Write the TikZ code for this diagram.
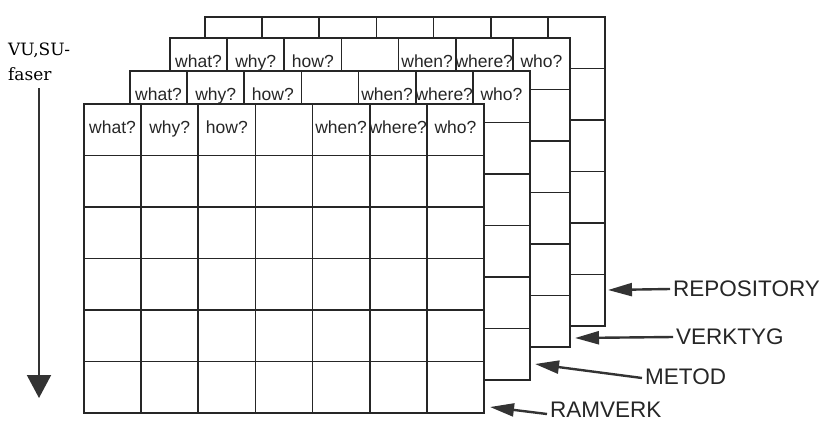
\documentclass[tikz,border=0pt]{standalone}
\usepackage{fontspec}
\setmainfont{Liberation Sans}
\newfontfamily\serifnote{DejaVu Serif}
\usetikzlibrary{arrows.meta}

% one sheet of the matrix: name, left, top
\newcommand{\matsheet}[3]{%
  \begin{scope}[shift={(#2,#3)}]
    \fill[white] (0,0) rectangle (400,309);
    \foreach \c in {1,...,6}
      \draw[gridline] ({\c*400/7},0) -- ({\c*400/7},309);
    \foreach \r in {1,...,5}
      \draw[gridline] (0,{\r*51.5}) -- (400,{\r*51.5});
    \draw[gridline] (0,0) rectangle (400,309);
    \coordinate (#1) at (0,0);
  \end{scope}}
% question headings of a sheet
\newcommand{\sheetasks}[3]{%
  \begin{scope}[shift={(#2,#3)}]
    \foreach \i/\q in {1/what?,2/why?,3/how?,5/when?,6/where?,7/who?}
      \node[ask] (#1-\i) at ({(\i-0.5)*400/7},29) {\q};
  \end{scope}}

\begin{document}
\begin{tikzpicture}[
  x=1pt, y=-1pt,
  gridline/.style={draw=black!85, line width=1.8pt, line join=miter},
  ask/.style={font=\fontsize{17.5}{19}\selectfont, anchor=base, inner sep=0pt, text=black!85},
  tag/.style={font=\fontsize{22.5}{25}\selectfont, anchor=west, inner sep=3pt, text=black!85},
  pointer/.style={-{Triangle[length=24pt,width=13pt]}, line width=2.4pt, draw=black!80},
  phase/.style={font=\fontsize{17}{25}\serifnote, align=left, anchor=north west, inner sep=0pt},
  phaseflow/.style={-{Triangle[length=23pt,width=24pt]}, line width=2pt, draw=black!80}
]
\fill[white] (0,0) rectangle (826,423);
\useasboundingbox (0,0) rectangle (826,423);

% sheets, back to front
\matsheet{repositorysheet}{205}{17}
\matsheet{verktygsheet}{170}{38}
\sheetasks{verktygsheet}{170}{38}
\matsheet{metodsheet}{130}{71}
\sheetasks{metodsheet}{130}{71}
\matsheet{ramverksheet}{84}{104}
\sheetasks{ramverksheet}{84}{104}

% phases
\node[phase] (phase) at (8,43) {VU,SU-\\faser};
\coordinate (phase-start) at (39,88);
\coordinate (phase-end) at (39,398);
\draw[phaseflow] (phase-start) -- (phase-end);

% layer labels
\node[tag] (repository) at (670,289) {REPOSITORY};
\node[tag] (verktyg) at (673,337) {VERKTYG};
\node[tag] (metod) at (642,377) {METOD};
\node[tag] (ramverk) at (547,410) {RAMVERK};
\coordinate (repository-tip) at (608,290);
\coordinate (verktyg-tip) at (575,338);
\coordinate (metod-tip) at (535,364);
\coordinate (ramverk-tip) at (490,407);

\draw[pointer] (repository.west) -- (repository-tip);
\draw[pointer] (verktyg.west) -- (verktyg-tip);
\draw[pointer] ([yshift=-1pt]metod.west) -- (metod-tip);
\draw[pointer] ([yshift=-4pt]ramverk.west) -- (ramverk-tip);
\end{tikzpicture}
\end{document}
